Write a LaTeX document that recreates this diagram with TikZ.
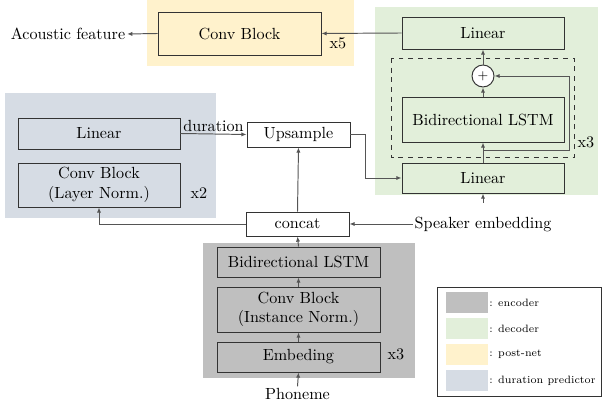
\documentclass[tikz,border=0pt]{standalone}
\usetikzlibrary{arrows.meta,calc}
\definecolor{encC}{HTML}{BFBFBF}
\definecolor{decC}{HTML}{E2EFDA}
\definecolor{postC}{HTML}{FFF2CC}
\definecolor{durC}{HTML}{D6DCE4}
\definecolor{lineC}{HTML}{555555}
\definecolor{bordC}{HTML}{333333}
\newcommand{\legfont}{\fontsize{6.6pt}{8pt}\selectfont}
\begin{document}
\begin{tikzpicture}[x=0.62pt,y=-0.62pt,
  blk/.style={draw=bordC, line width=0.6pt, inner sep=0pt, align=center},
  arr/.style={draw=lineC, line width=0.6pt, -{Latex[length=3.2pt,width=2.6pt]}},
  lbl/.style={inner sep=1pt},
  leg/.style={font=\legfont, anchor=west, inner sep=0pt}]
\useasboundingbox (0,0) rectangle (603,403);
% backgrounds
\fill[postC] (147,0) rectangle (354,66);
\fill[decC] (375,7) rectangle (598,195);
\fill[durC] (5,93) rectangle (216,218);
\fill[encC] (203,243) rectangle (415,378);
% post-net
\node[blk, fill=postC, minimum width=163*0.62pt, minimum height=43*0.62pt] (pconv) at (239.5,33.5) {Conv Block};
\node[lbl] (acoustic) at (68,34) {Acoustic feature};
\node[lbl] (x5) at (338,43) {x5};
% decoder
\node[blk, fill=decC, minimum width=162*0.62pt, minimum height=32*0.62pt] (declin) at (483,33) {Linear};
\draw[dashed, line width=0.6pt, draw=bordC] (391,58) rectangle (574,157);
\node[draw=bordC, line width=0.6pt, circle, fill=white, minimum size=22*0.62pt, inner sep=0pt, font=\footnotesize] (plus) at (483,76) {+};
\node[blk, fill=decC, minimum width=162*0.62pt, minimum height=45*0.62pt] (decbi) at (483,119.5) {Bidirectional LSTM};
\node[blk, fill=decC, minimum width=162*0.62pt, minimum height=30*0.62pt] (declinb) at (483,178) {Linear};
\node[lbl] (x3d) at (586,142) {x3};
% duration predictor
\node[blk, fill=durC, minimum width=162*0.62pt, minimum height=31*0.62pt] (dplin) at (99,133.5) {Linear};
\node[blk, fill=durC, minimum width=162*0.62pt, minimum height=44*0.62pt] (dpconv) at (99,185) {Conv Block\\(Layer Norm.)};
\node[lbl] (x2) at (199,193) {x2};
% middle
\node[blk, fill=white, minimum width=103*0.62pt, minimum height=25*0.62pt] (ups) at (298.5,134.5) {Upsample};
\node[blk, fill=white, minimum width=103*0.62pt, minimum height=24*0.62pt] (concat) at (297.5,224) {concat};
% encoder
\node[blk, fill=encC, minimum width=163*0.62pt, minimum height=30*0.62pt] (encbi) at (298.5,262) {Bidirectional LSTM};
\node[blk, fill=encC, minimum width=163*0.62pt, minimum height=45*0.62pt] (encconv) at (298.5,309.5) {Conv Block\\(Instance Norm.)};
\node[blk, fill=encC, minimum width=163*0.62pt, minimum height=30*0.62pt] (emb) at (298.5,357) {Embeding};
\node[lbl] (x3e) at (396,354) {x3};
\node[lbl] (phon) at (297.5,394) {Phoneme};
\node[lbl] (spk) at (483,224) {Speaker embedding};
\coordinate (spktop) at (483,203);
\coordinate (skip) at (483,150);
% connectors
\draw[arr] (declin.west) -- (pconv.east);
\draw[arr] (pconv.west) -- (acoustic.east);
\draw[arr] (plus.north) -- (declin.south);
\draw[arr] (decbi.north) -- (plus.south);
\draw[arr] (declinb.north) -- (decbi.south);
\draw[arr] (skip) -- (569,150) -- (569,76) -- (plus.east);
\draw[arr] (spktop) -- (declinb.south);
\draw[arr] (ups.east) -- ++(15,0) |- (declinb.west);
\draw[arr] (dplin.east) -- node[above, inner sep=1pt] {duration} (ups.west);
\draw[arr] (concat.north) -- (ups.south);
\draw[arr] (concat.west) -| (dpconv.south);
\draw[arr] (spk.west) -- (concat.east);
\draw[arr] (encbi.north) -- (concat.south);
\draw[arr] (encconv.north) -- (encbi.south);
\draw[arr] (emb.north) -- (encconv.south);
\draw[arr] (phon.north) -- (emb.south);
% legend
\draw[line width=0.6pt, draw=bordC] (437,287) rectangle (601,396);
\fill[encC] (446,292) rectangle (488,313);
\fill[decC] (446,318) rectangle (488,339);
\fill[postC] (446,344) rectangle (488,365);
\fill[durC] (446,370) rectangle (488,391);
\node[leg] (le) at (489,302.5) {: encoder};
\node[leg] (ld) at (489,328.5) {: decoder};
\node[leg] (lp) at (489,354.5) {: post-net};
\node[leg] (lu) at (489,380.5) {: duration predictor};
\end{tikzpicture}
\end{document}
